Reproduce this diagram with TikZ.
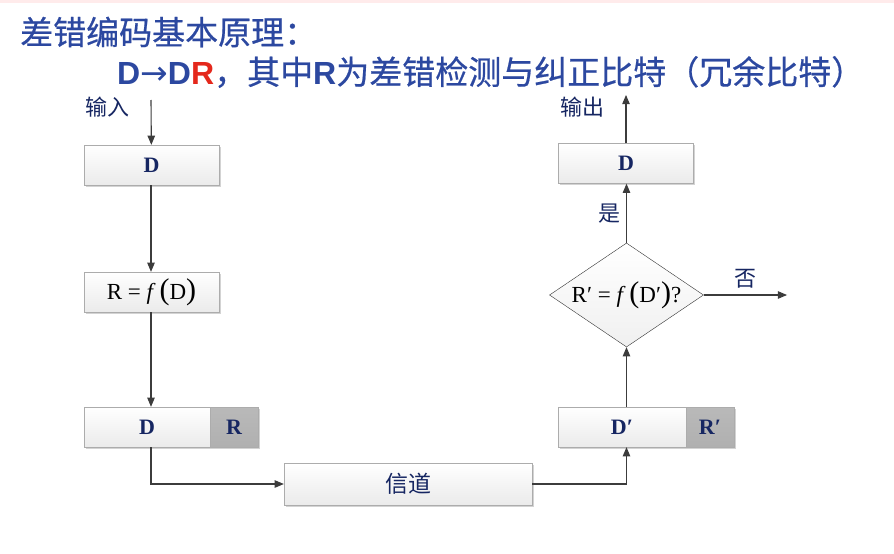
\documentclass[tikz,border=0pt]{standalone}
\usepackage{fontspec}
\setmainfont{Liberation Serif}
\setsansfont{Liberation Sans}
\newfontfamily\cjk{Noto Sans CJK SC}
\newfontfamily\cjkhead[FakeBold=0.6]{Noto Sans CJK SC}
\newfontfamily\arrowfont{DejaVu Sans}
\usetikzlibrary{arrows,shapes.geometric,shadows}

\definecolor{TitleBlue}{RGB}{44,72,160}
\definecolor{InkNavy}{RGB}{22,38,98}
\definecolor{ErrRed}{RGB}{228,40,28}
\definecolor{WireGray}{RGB}{60,60,60}

\newcommand{\bigpar}[1]{{\fontsize{30}{30}\selectfont#1}}

\tikzset{
    databox/.style={draw=gray!65,top color=white,bottom color=gray!16,
        drop shadow={opacity=0.35,shadow xshift=1.5pt,shadow yshift=-1.8pt},
        minimum height=40pt,inner sep=0pt,text=InkNavy,
        font=\fontsize{22}{22}\selectfont\bfseries},
    checkbox/.style={databox,top color=gray!55,bottom color=gray!62},
    wire/.style={WireGray,line width=1.1pt,->,>=triangle 45},
    cnlabel/.style={text=InkNavy,font=\cjk\fontsize{22}{22}\selectfont}
}

\begin{document}
\begin{tikzpicture}[x=1pt,y=-1pt]
            \useasboundingbox (0,0) rectangle (894,554);
            \fill[red!8] (0,0) rectangle (894,3);

            % Title lines
            \node[anchor=west,inner sep=0pt,text=TitleBlue,font=\cjkhead\fontsize{33}{33}\selectfont] (title) at (20,32) {差错编码基本原理：};
            \node[anchor=west,inner sep=0pt,text=TitleBlue,font=\fontsize{32}{32}\selectfont] (rule) at (117,72)
                {{\sffamily\bfseries D{\arrowfont\mdseries\fontsize{33}{33}\selectfont →}D\textcolor{ErrRed}{R}}{\cjkhead\fontsize{33}{33}\selectfont ，其中}{\sffamily\bfseries R}{\cjkhead\fontsize{33}{33}\selectfont 为差错检测与纠正比特（冗余比特）}};

            % Sender side
            \coordinate (inp) at (151,100);
            \node[cnlabel] (inlabel) at (107,107) {输入};
            \node[databox,minimum width=135pt] (din) at (151.5,165) {D};
            \node[databox,minimum width=135pt,text=black,font=\fontsize{23}{23}\selectfont] (calc) at (151.5,292)
                {R = \textit{f}\,\bigpar{(}D\bigpar{)}};
            \node[databox,minimum width=126pt] (dsend) at (147,427) {D};
            \node[checkbox,minimum width=48pt] (rsend) at (234,427) {R};

            % Channel
            \node[databox,minimum width=248pt,minimum height=42pt,font=\cjk\fontsize{23}{23}\selectfont] (chan) at (408,484) {信道};

            % Receiver side
            \node[databox,minimum width=128pt] (drecv) at (622,427) {D′};
            \node[checkbox,minimum width=48pt] (rrecv) at (710,427) {R′};
            \node[diamond,aspect=1.5,draw=gray!40!black,top color=white,bottom color=gray!12,inner sep=0pt,
                minimum width=154pt,minimum height=104pt,font=\fontsize{23}{23}\selectfont] (check) at (626.5,295)
                {R′ = \textit{f}\,\bigpar{(}D′\bigpar{)}?};
            \node[databox,minimum width=135pt] (dout) at (626,163.5) {D};
            \node[cnlabel] (outlabel) at (582,107) {输出};
            \coordinate (outp) at (626,95);
            \coordinate (reject) at (787,295);

            % Connectors
            \draw[wire] (inp) -- (din);
            \draw[wire] (din.south -| inp) -- (calc.north -| inp);
            \draw[wire] (calc.south -| inp) -- (dsend.north -| inp);
            \draw[wire] (dsend.south -| inp) |- (chan.west);
            \draw[wire] (chan.east) -| (drecv.south -| check);
            \draw[wire] (drecv.north -| check) -- (check.south);
            \draw[wire] (check.north) -- node[cnlabel,left=2pt] {是} (dout.south -| check);
            \draw[wire] (check.east) -- node[cnlabel,above=3pt] {否} (reject);
            \draw[wire] (dout.north -| outp) -- (outp);
\end{tikzpicture}
\end{document}
